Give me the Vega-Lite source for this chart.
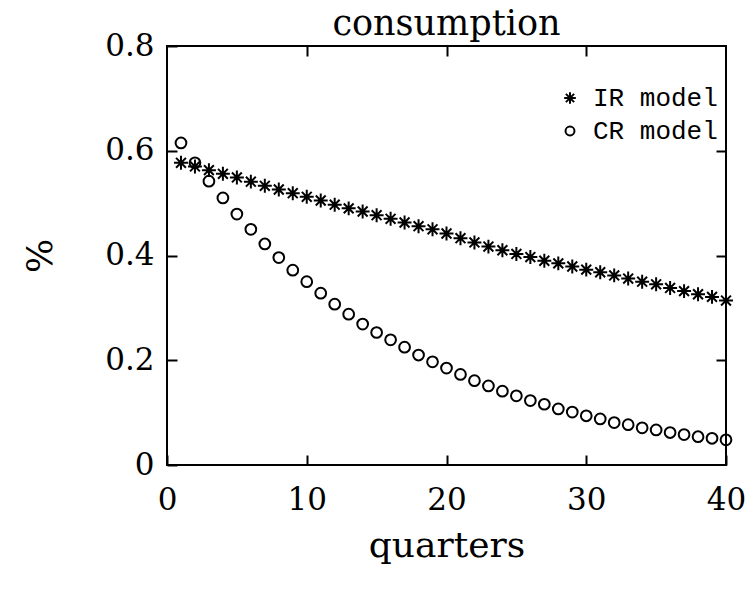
{
  "$schema": "https://vega.github.io/schema/vega-lite/v6.json",
  "autosize": "none",
  "width": 559,
  "height": 419,
  "padding": {"left": 167, "top": 46, "right": 28, "bottom": 131},
  "background": "white",
  "config": {
    "view": {"stroke": "black", "strokeWidth": 2},
    "font": "DejaVu Serif",
    "axis": {"domain": false, "grid": false, "tickColor": "black", "tickWidth": 2, "tickSize": -10, "labelColor": "black", "titleColor": "black", "labelFont": "DejaVu Serif", "titleFont": "DejaVu Serif", "labelFontSize": 31, "titleFontWeight": "normal", "titleFontSize": 36}
  },
  "title": {"text": "consumption", "font": "DejaVu Serif", "fontSize": 35, "fontWeight": "normal", "color": "black", "offset": -12, "anchor": "middle"},
  "datasets": {
    "pts": [
      {"q": 1, "v": 0.577, "model": "IR model"},
      {"q": 2, "v": 0.570, "model": "IR model"},
      {"q": 3, "v": 0.563, "model": "IR model"},
      {"q": 4, "v": 0.556, "model": "IR model"},
      {"q": 5, "v": 0.549, "model": "IR model"},
      {"q": 6, "v": 0.541, "model": "IR model"},
      {"q": 7, "v": 0.533, "model": "IR model"},
      {"q": 8, "v": 0.526, "model": "IR model"},
      {"q": 9, "v": 0.519, "model": "IR model"},
      {"q": 10, "v": 0.512, "model": "IR model"},
      {"q": 11, "v": 0.505, "model": "IR model"},
      {"q": 12, "v": 0.497, "model": "IR model"},
      {"q": 13, "v": 0.490, "model": "IR model"},
      {"q": 14, "v": 0.484, "model": "IR model"},
      {"q": 15, "v": 0.477, "model": "IR model"},
      {"q": 16, "v": 0.470, "model": "IR model"},
      {"q": 17, "v": 0.463, "model": "IR model"},
      {"q": 18, "v": 0.456, "model": "IR model"},
      {"q": 19, "v": 0.450, "model": "IR model"},
      {"q": 20, "v": 0.442, "model": "IR model"},
      {"q": 21, "v": 0.433, "model": "IR model"},
      {"q": 22, "v": 0.425, "model": "IR model"},
      {"q": 23, "v": 0.417, "model": "IR model"},
      {"q": 24, "v": 0.410, "model": "IR model"},
      {"q": 25, "v": 0.403, "model": "IR model"},
      {"q": 26, "v": 0.397, "model": "IR model"},
      {"q": 27, "v": 0.390, "model": "IR model"},
      {"q": 28, "v": 0.385, "model": "IR model"},
      {"q": 29, "v": 0.379, "model": "IR model"},
      {"q": 30, "v": 0.373, "model": "IR model"},
      {"q": 31, "v": 0.368, "model": "IR model"},
      {"q": 32, "v": 0.362, "model": "IR model"},
      {"q": 33, "v": 0.356, "model": "IR model"},
      {"q": 34, "v": 0.350, "model": "IR model"},
      {"q": 35, "v": 0.345, "model": "IR model"},
      {"q": 36, "v": 0.338, "model": "IR model"},
      {"q": 37, "v": 0.332, "model": "IR model"},
      {"q": 38, "v": 0.326, "model": "IR model"},
      {"q": 39, "v": 0.321, "model": "IR model"},
      {"q": 40, "v": 0.314, "model": "IR model"},
      {"q": 1, "v": 0.615, "model": "CR model"},
      {"q": 2, "v": 0.577, "model": "CR model"},
      {"q": 3, "v": 0.542, "model": "CR model"},
      {"q": 4, "v": 0.510, "model": "CR model"},
      {"q": 5, "v": 0.479, "model": "CR model"},
      {"q": 6, "v": 0.450, "model": "CR model"},
      {"q": 7, "v": 0.422, "model": "CR model"},
      {"q": 8, "v": 0.396, "model": "CR model"},
      {"q": 9, "v": 0.372, "model": "CR model"},
      {"q": 10, "v": 0.350, "model": "CR model"},
      {"q": 11, "v": 0.328, "model": "CR model"},
      {"q": 12, "v": 0.307, "model": "CR model"},
      {"q": 13, "v": 0.288, "model": "CR model"},
      {"q": 14, "v": 0.269, "model": "CR model"},
      {"q": 15, "v": 0.253, "model": "CR model"},
      {"q": 16, "v": 0.239, "model": "CR model"},
      {"q": 17, "v": 0.225, "model": "CR model"},
      {"q": 18, "v": 0.210, "model": "CR model"},
      {"q": 19, "v": 0.197, "model": "CR model"},
      {"q": 20, "v": 0.185, "model": "CR model"},
      {"q": 21, "v": 0.173, "model": "CR model"},
      {"q": 22, "v": 0.161, "model": "CR model"},
      {"q": 23, "v": 0.151, "model": "CR model"},
      {"q": 24, "v": 0.141, "model": "CR model"},
      {"q": 25, "v": 0.132, "model": "CR model"},
      {"q": 26, "v": 0.123, "model": "CR model"},
      {"q": 27, "v": 0.116, "model": "CR model"},
      {"q": 28, "v": 0.107, "model": "CR model"},
      {"q": 29, "v": 0.101, "model": "CR model"},
      {"q": 30, "v": 0.094, "model": "CR model"},
      {"q": 31, "v": 0.088, "model": "CR model"},
      {"q": 32, "v": 0.081, "model": "CR model"},
      {"q": 33, "v": 0.077, "model": "CR model"},
      {"q": 34, "v": 0.071, "model": "CR model"},
      {"q": 35, "v": 0.067, "model": "CR model"},
      {"q": 36, "v": 0.062, "model": "CR model"},
      {"q": 37, "v": 0.058, "model": "CR model"},
      {"q": 38, "v": 0.054, "model": "CR model"},
      {"q": 39, "v": 0.051, "model": "CR model"},
      {"q": 40, "v": 0.048, "model": "CR model"}
    ]
  },
  "data": {"name": "pts"},
  "layer": [
    {
      "mark": {"type": "point", "filled": false, "stroke": "black", "strokeWidth": 2, "size": 115, "opacity": 1},
      "encoding": {
        "x": {"field": "q", "type": "quantitative", "scale": {"domain": [0, 40], "nice": false, "zero": false}, "axis": {"orient": "bottom", "values": [0, 10, 20, 30, 40], "labelPadding": 30, "labelFlush": false, "title": "quarters", "titleY": 80, "titleBaseline": "middle"}},
        "y": {"field": "v", "type": "quantitative", "scale": {"domain": [0, 0.8], "nice": false}, "axis": {"orient": "left", "values": [0, 0.2, 0.4, 0.6, 0.8], "labelExpr": "datum.value == 0 ? '0' : format(datum.value, '.1f')", "labelPadding": 23, "labelFlush": false, "title": "%", "titleX": -127, "titleBaseline": "middle"}},
        "shape": {"field": "model", "type": "nominal", "scale": {"domain": ["IR model", "CR model"], "range": ["M0,-1.3L0,1.3M-1.3,0L1.3,0M-0.92,-0.92L0.92,0.92M-0.92,0.92L0.92,-0.92", "circle"]},
          "legend": {"title": null, "orient": "none", "legendX": 390, "legendY": 39, "labelFont": "Liberation Mono", "labelFontSize": 26, "labelColor": "black", "symbolStrokeColor": "black", "symbolStrokeWidth": 2, "symbolFillColor": "transparent", "symbolOpacity": 1, "symbolSize": 80, "rowPadding": 7, "labelOffset": 10}}
      }
    },
    {
      "mark": {"type": "point", "opacity": 0},
      "encoding": {
        "x": {"field": "q", "type": "quantitative", "scale": {"domain": [0, 40], "nice": false, "zero": false}, "axis": {"orient": "top", "values": [10, 20, 30], "labels": false, "title": null}},
        "y": {"field": "v", "type": "quantitative", "scale": {"domain": [0, 0.8], "nice": false}, "axis": {"orient": "right", "values": [0.2, 0.4, 0.6], "labels": false, "title": null}}
      }
    }
  ],
  "resolve": {"axis": {"x": "independent", "y": "independent"}}
}
